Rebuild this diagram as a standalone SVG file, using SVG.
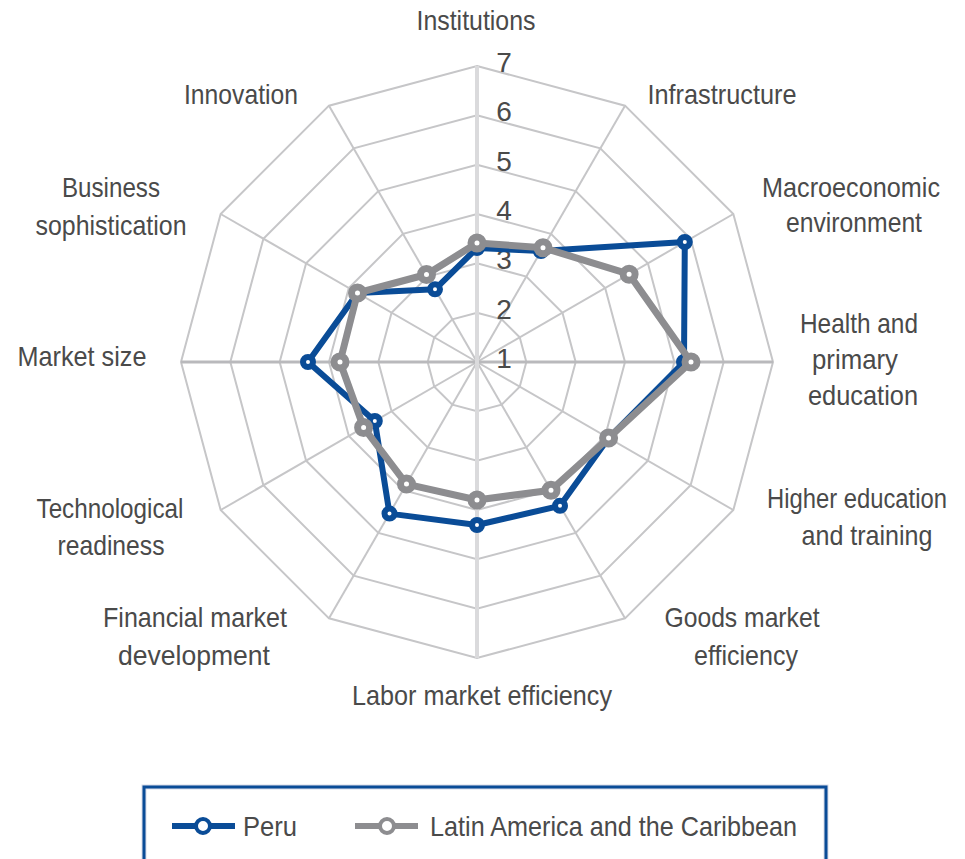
<svg xmlns="http://www.w3.org/2000/svg" width="965" height="859" viewBox="0 0 965 859">
<style>
.ring{fill:none;stroke:#c6c6c8;stroke-width:2}
.spoke{stroke:#c6c6c8;stroke-width:2}
.lbl{font-family:"Liberation Sans Narrow","Liberation Sans",Arial,sans-serif;font-size:28px;fill:#4a4a4a;text-anchor:middle}
.num{font-family:"Liberation Sans Narrow","Liberation Sans",Arial,sans-serif;font-size:28px;fill:#4a4a4a;text-anchor:middle}
.peru{fill:none;stroke:#0a4c97;stroke-width:6;stroke-linejoin:round}
.lac{fill:none;stroke:#8d8d90;stroke-width:7;stroke-linejoin:round}
.mp{fill:#fff;stroke:#0a4c97;stroke-width:6}
.ml{fill:#fff;stroke:#8d8d90;stroke-width:7}
</style>
<rect width="965" height="859" fill="#fff"/>
<g id="grid" transform="translate(477,362)">
<polygon class="ring" points="0,-49.33 24.67,-42.72 42.72,-24.67 49.33,0 42.72,24.67 24.67,42.72 0,49.33 -24.67,42.72 -42.72,24.67 -49.33,0 -42.72,-24.67 -24.67,-42.72"/>
<polygon class="ring" points="0,-98.67 49.33,-85.45 85.45,-49.33 98.67,0 85.45,49.33 49.33,85.45 0,98.67 -49.33,85.45 -85.45,49.33 -98.67,0 -85.45,-49.33 -49.33,-85.45"/>
<polygon class="ring" points="0,-148 74,-128.17 128.17,-74 148,0 128.17,74 74,128.17 0,148 -74,128.17 -128.17,74 -148,0 -128.17,-74 -74,-128.17"/>
<polygon class="ring" points="0,-197.33 98.67,-170.89 170.89,-98.67 197.33,0 170.89,98.67 98.67,170.89 0,197.33 -98.67,170.89 -170.89,98.67 -197.33,0 -170.89,-98.67 -98.67,-170.89"/>
<polygon class="ring" points="0,-246.67 123.33,-213.62 213.62,-123.33 246.67,0 213.62,123.33 123.33,213.62 0,246.67 -123.33,213.62 -213.62,123.33 -246.67,0 -213.62,-123.33 -123.33,-213.62"/>
<polygon class="ring" points="0,-296 148,-256.34 256.34,-148 296,0 256.34,148 148,256.34 0,296 -148,256.34 -256.34,148 -296,0 -256.34,-148 -148,-256.34"/>
<line class="spoke" x1="0" y1="0" x2="148" y2="-256.34"/>
<line class="spoke" x1="0" y1="0" x2="256.34" y2="-148"/>
<line class="spoke" x1="0" y1="0" x2="256.34" y2="148"/>
<line class="spoke" x1="0" y1="0" x2="148" y2="256.34"/>
<line class="spoke" x1="0" y1="0" x2="-148" y2="256.34"/>
<line class="spoke" x1="0" y1="0" x2="-256.34" y2="148"/>
<line class="spoke" x1="0" y1="0" x2="-256.34" y2="-148"/>
<line class="spoke" x1="0" y1="0" x2="-148" y2="-256.34"/>
<line x1="-296" y1="0" x2="296" y2="0" stroke="#b9b9bc" stroke-width="3"/>
<line x1="0" y1="-296" x2="0" y2="296" stroke="#dadadc" stroke-width="4"/>
</g>
<g id="scale">
<text class="num" x="504" y="368">1</text>
<text class="num" x="504" y="319">2</text>
<text class="num" x="504" y="269">3</text>
<text class="num" x="504" y="220">4</text>
<text class="num" x="504" y="171">5</text>
<text class="num" x="504" y="121">6</text>
<text class="num" x="504" y="72">7</text>
</g>
<g id="connectors" transform="translate(477,362)">
<polygon id="peru-line" class="peru" points="0,-114 64,-110.9 207.8,-120 207,0 131.6,76 83,143.8 0,163 -87.5,151.6 -102.2,59 -169,0 -119.5,-69 -42,-72.7"/>
<g id="peru-markers">
<circle class="mp" cx="0" cy="-114" r="5"/>
<circle class="mp" cx="64" cy="-110.9" r="5"/>
<circle class="mp" cx="207.8" cy="-120" r="5"/>
<circle class="mp" cx="207" cy="0" r="5"/>
<circle class="mp" cx="131.6" cy="76" r="5"/>
<circle class="mp" cx="83" cy="143.8" r="5"/>
<circle class="mp" cx="0" cy="163" r="5"/>
<circle class="mp" cx="-87.5" cy="151.6" r="5"/>
<circle class="mp" cx="-102.2" cy="59" r="5"/>
<circle class="mp" cx="-169" cy="0" r="5"/>
<circle class="mp" cx="-119.5" cy="-69" r="5"/>
<circle class="mp" cx="-42" cy="-72.7" r="5"/>
</g>
<polygon id="lac-line" class="lac" points="0,-119 66,-114.3 152.1,-87.8 214,0 131.6,76 74,128.2 0,138 -70.5,122.1 -113.4,65.5 -137,0 -119.5,-69 -50.5,-87.5"/>
<g id="lac-markers">
<circle class="ml" cx="0" cy="-119" r="6"/>
<circle class="ml" cx="66" cy="-114.3" r="6"/>
<circle class="ml" cx="152.1" cy="-87.8" r="6"/>
<circle class="ml" cx="214" cy="0" r="6"/>
<circle class="ml" cx="131.6" cy="76" r="6"/>
<circle class="ml" cx="74" cy="128.2" r="6"/>
<circle class="ml" cx="0" cy="138" r="6"/>
<circle class="ml" cx="-70.5" cy="122.1" r="6"/>
<circle class="ml" cx="-113.4" cy="65.5" r="6"/>
<circle class="ml" cx="-137" cy="0" r="6"/>
<circle class="ml" cx="-119.5" cy="-69" r="6"/>
<circle class="ml" cx="-50.5" cy="-87.5" r="6"/>
</g>
</g>
<g id="n-institutions"><text class="lbl" x="476" y="30" textLength="119" lengthAdjust="spacingAndGlyphs">Institutions</text></g>
<g id="n-infrastructure"><text class="lbl" x="722" y="104" textLength="149" lengthAdjust="spacingAndGlyphs">Infrastructure</text></g>
<g id="n-macro"><text class="lbl" x="851" y="197" textLength="178" lengthAdjust="spacingAndGlyphs">Macroeconomic</text><text class="lbl" x="854" y="232" textLength="136" lengthAdjust="spacingAndGlyphs">environment</text></g>
<g id="n-health"><text class="lbl" x="859" y="333" textLength="118" lengthAdjust="spacingAndGlyphs">Health and</text><text class="lbl" x="855" y="369" textLength="86" lengthAdjust="spacingAndGlyphs">primary</text><text class="lbl" x="863" y="405" textLength="110" lengthAdjust="spacingAndGlyphs">education</text></g>
<g id="n-higher"><text class="lbl" x="947" y="508" style="text-anchor:end;font-size:27px" textLength="180" lengthAdjust="spacingAndGlyphs">Higher education</text><text class="lbl" x="867" y="545" textLength="131" lengthAdjust="spacingAndGlyphs">and training</text></g>
<g id="n-goods"><text class="lbl" x="742" y="627" textLength="155" lengthAdjust="spacingAndGlyphs">Goods market</text><text class="lbl" x="746" y="665" textLength="104" lengthAdjust="spacingAndGlyphs">efficiency</text></g>
<g id="n-labor"><text class="lbl" x="482" y="705" textLength="260" lengthAdjust="spacingAndGlyphs">Labor market efficiency</text></g>
<g id="n-financial"><text class="lbl" x="195" y="627" textLength="184" lengthAdjust="spacingAndGlyphs">Financial market</text><text class="lbl" x="194" y="665" textLength="152" lengthAdjust="spacingAndGlyphs">development</text></g>
<g id="n-tech"><text class="lbl" x="110" y="518" textLength="147" lengthAdjust="spacingAndGlyphs">Technological</text><text class="lbl" x="111" y="555" textLength="107" lengthAdjust="spacingAndGlyphs">readiness</text></g>
<g id="n-market"><text class="lbl" x="82" y="366" textLength="129" lengthAdjust="spacingAndGlyphs">Market size</text></g>
<g id="n-business"><text class="lbl" x="111" y="197" textLength="98" lengthAdjust="spacingAndGlyphs">Business</text><text class="lbl" x="111" y="235" textLength="151" lengthAdjust="spacingAndGlyphs">sophistication</text></g>
<g id="n-innovation"><text class="lbl" x="241" y="104" textLength="114" lengthAdjust="spacingAndGlyphs">Innovation</text></g>
<g id="legend">
<rect x="144" y="787" width="682" height="100" fill="none" stroke="#d7dbe8" stroke-width="5"/>
<rect x="144" y="787" width="682" height="100" fill="none" stroke="#0a4c97" stroke-width="3"/>
<line x1="172" y1="826" x2="235" y2="826" stroke="#0a4c97" stroke-width="6"/>
<circle cx="203" cy="826" r="7" fill="#fff" stroke="#0a4c97" stroke-width="4"/>
<text class="lbl" x="243" y="836" style="text-anchor:start" textLength="54" lengthAdjust="spacingAndGlyphs">Peru</text>
<line x1="355" y1="826" x2="418" y2="826" stroke="#8d8d90" stroke-width="6"/>
<circle cx="387" cy="826" r="7" fill="#fff" stroke="#8d8d90" stroke-width="4"/>
<text class="lbl" x="430" y="836" style="text-anchor:start" textLength="367" lengthAdjust="spacingAndGlyphs">Latin America and the Caribbean</text>
</g>
</svg>
